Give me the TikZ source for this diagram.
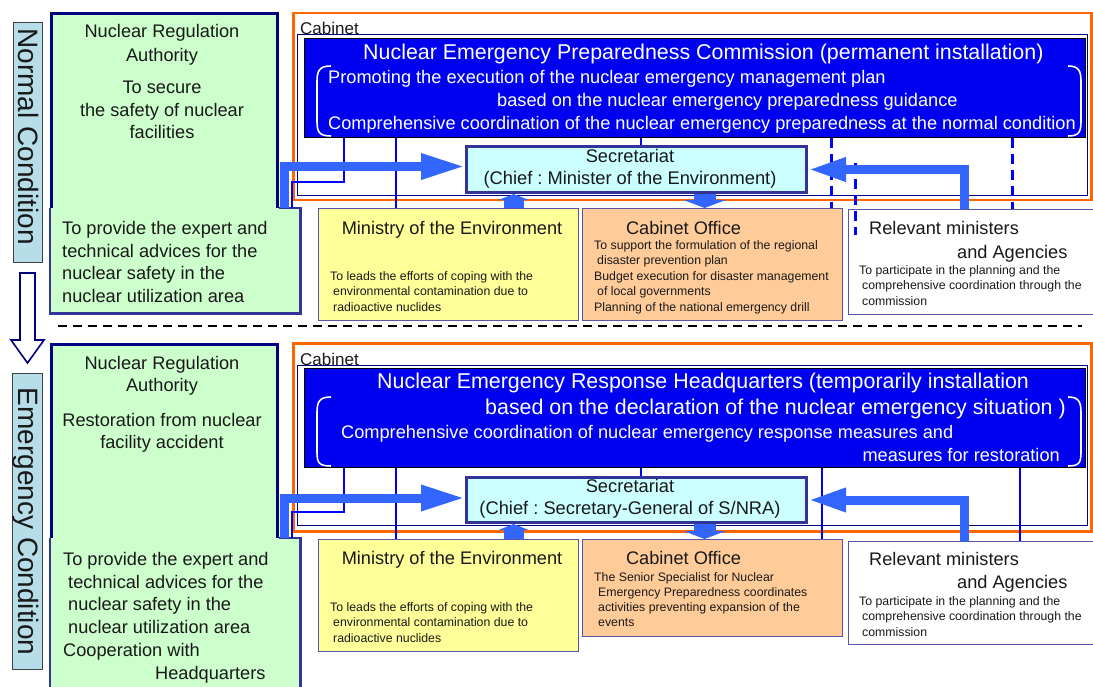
\documentclass[tikz,border=0pt]{standalone}
\usepackage{fontspec}
\setmainfont{Liberation Sans}
\usetikzlibrary{arrows.meta}
\definecolor{navy}{HTML}{000080}
\definecolor{nraborder}{HTML}{333399}
\definecolor{greenf}{HTML}{CCFFCC}
\definecolor{condfill}{HTML}{B7DEE8}
\definecolor{orangeb}{HTML}{FF6600}
\definecolor{comblue}{HTML}{0000F0}
\definecolor{secfill}{HTML}{CCFFFF}
\definecolor{moefill}{HTML}{FFFF99}
\definecolor{cofill}{HTML}{FFCC99}
\definecolor{boxb}{HTML}{5555AA}
\definecolor{fatblue}{HTML}{3366FF}
\definecolor{thinblue}{HTML}{0000FF}
\frenchspacing
\begin{document}
\begin{tikzpicture}[x=1pt,y=-1pt,
  box/.style={rectangle, inner sep=0, anchor=north west},
  condbox/.style={box, fill=condfill, draw=black!75, line width=1.2},
  cabbox/.style={box, draw=orangeb, line width=2.5},
  cabin/.style={box, draw=navy, line width=1.2},
  combox/.style={box, fill=comblue, draw=black, line width=1},
  secbox/.style={box, fill=secfill, draw=nraborder, line width=3},
  unitbox/.style={box, draw=boxb, line width=1.2},
  nraup/.style={box, fill=greenf, draw=navy, line width=3},
  nralow/.style={box, fill=greenf},
  nraline/.style={draw=nraborder, line width=2.5},
  tx/.style={inner sep=0, text=black!90},
  fA/.style={font=\fontsize{18.2}{22.7}\selectfont},
  fT/.style={font=\fontsize{21.4}{26}\selectfont},
  fS/.style={font=\fontsize{12.3}{15.4}\selectfont},
  fC/.style={font=\fontsize{28}{32}\selectfont},
  wt/.style={inner sep=0, text=white},
  thinb/.style={draw=thinblue, line width=2},
  dashb/.style={draw=thinblue, line width=3, dash pattern=on 10pt off 6pt},
  fat/.style={draw=fatblue, line width=9},
  fathead/.style={-{Triangle[length=44pt,width=24pt]}},
  bracket/.style={draw=white, line width=1.6}
]
\useasboundingbox (0,0) rectangle (1093,687);
\fill[white] (0,0) rectangle (1093,687);

% ================= NORMAL CONDITION =================
\node[condbox, minimum width=29, minimum height=240] (cond1) at (13,22) {};
\node[tx, fC, rotate=-90, anchor=base] (cond1t) at (19,136.5) {Normal Condition};

\node[cabbox, minimum width=798, minimum height=187] (cab1) at (292,12) {};
\node[cabin, minimum width=790, minimum height=161] (cabin1) at (297,34) {};
\node[tx, font=\fontsize{17}{20}\selectfont, anchor=north west] (cab1t) at (300,22) {Cabinet};
\node[combox, minimum width=781, minimum height=99] (com1) at (304,38) {};
\node[secbox, minimum width=340, minimum height=46] (sec1) at (465,145) {};
\node[unitbox, fill=moefill, minimum width=260, minimum height=112] (moe1) at (318,208) {};
\node[unitbox, fill=cofill, minimum width=260, minimum height=112] (co1) at (582,208) {};
\node[unitbox, fill=white, minimum width=260, minimum height=105] (rel1) at (848,209) {};
\node[nraup, minimum width=226, minimum height=198] (nra1) at (50,12) {};
\node[nralow, minimum width=250, minimum height=105] (nra1b) at (50,208) {};
\draw[nraline] (nra1.east |- nra1b.north) -- (nra1b.north east) -- (nra1b.south east) -- (nra1b.south west) -- (nra1b.north west);

% brackets
\draw[bracket] (331,66) .. controls (319,66) and (317,71) .. (317,82) -- (317,121) .. controls (317,132) and (319,136) .. (331,136);
\draw[bracket] (1068,66) .. controls (1079,66) and (1081,71) .. (1081,82) -- (1081,121) .. controls (1081,132) and (1079,136) .. (1068,136);

% connectors
\draw[thinb] ([xshift=4pt]sec1.north) -- ([xshift=4pt]sec1.north |- com1.south);
\draw[thinb] ([xshift=40pt]com1.south west) |- ([xshift=-8pt,yshift=26pt]nra1b.north east) -- ([xshift=-8pt]nra1b.north east);
\draw[thinb] ([xshift=92pt]com1.south west) -- ([xshift=92pt]com1.south west |- moe1.north);
\draw[dashb] ([xshift=-12pt]co1.north east |- com1.south) -- ([xshift=-12pt]co1.north east);
\coordinate (d1a) at (855,163);
\coordinate (d1b) at (855,235);
\draw[dashb] (d1a) -- (d1b);
\draw[dashb] ([xshift=164pt]rel1.north west |- com1.south) -- ([xshift=164pt]rel1.north west);
\draw[fat, fathead] ([xshift=-16pt]nra1b.north east) |- ([yshift=3pt]sec1.west);
\draw[fat, -{Triangle[length=38pt,width=22pt]}] ([xshift=116pt]rel1.north west) |- (sec1.east);
\draw[draw=fatblue, line width=20, -{Triangle[length=6pt,width=30pt]}] ([xshift=65pt]moe1.north) -- ([xshift=65pt]moe1.north |- sec1.south);
\draw[draw=fatblue, line width=22, -{Triangle[length=8pt,width=42pt]}] ([xshift=-8pt]co1.north |- sec1.south) -- ([xshift=-8pt]co1.north);

% texts
\node[tx, font=\fontsize{18.2}{24}\selectfont, align=center, anchor=north] (nra1a) at (162,24.2) {Nuclear Regulation\\Authority};
\node[tx, font=\fontsize{18.2}{22.5}\selectfont, align=center, anchor=north] (nra1c) at (162,81.2) {To secure\\the safety of nuclear\\facilities};
\node[tx, fA, align=left, anchor=north west] (nra1d) at (62,221.2) {To provide the expert and\\technical advices for the\\nuclear safety in the\\nuclear utilization area};

\node[wt, fT, anchor=north west] (com1a) at (363,44) {Nuclear Emergency Preparedness Commission (permanent installation)};
\node[wt, fA, anchor=north west] (com1b) at (328,70.2) {Promoting the execution of the nuclear emergency management plan};
\node[wt, fA, anchor=north west] (com1c) at (497,93.2) {based on the nuclear emergency preparedness guidance};
\node[wt, fA, anchor=north west] (com1d) at (328,116.2) {Comprehensive coordination of the nuclear emergency preparedness at the normal condition};

\node[tx, font=\fontsize{18.3}{21.5}\selectfont, align=center, anchor=north] (sec1t) at (630,149.2) {Secretariat\\(Chief : Minister of the Environment)};

\node[tx, fA, anchor=north] (moe1a) at (452,221.2) {Ministry of the Environment};
\node[tx, fS, align=left, anchor=north west] (moe1b) at (330,271.3) {To leads the efforts of coping with the\\\hspace*{3pt}environmental contamination due to\\\hspace*{3pt}radioactive nuclides};
\node[tx, fA, anchor=north] (co1a) at (683.5,221.2) {Cabinet Office};
\node[tx, fS, align=left, anchor=north west] (co1b) at (594,240.3) {To support the formulation of the regional\\\hspace*{3pt}disaster prevention plan\\Budget execution for disaster management\\\hspace*{3pt}of local governments\\Planning of the national emergency drill};
\node[tx, fA, anchor=north west] (rel1a) at (869,221.2) {Relevant ministers};
\node[tx, fA, anchor=north west] (rel1b) at (957,245.2) {and Agencies};
\node[tx, fS, align=left, anchor=north west] (rel1c) at (859,265.3) {To participate in the planning and the\\\hspace*{3pt}comprehensive coordination through the\\\hspace*{3pt}commission};

% separator and transition arrow
\coordinate (sepA) at (58,326);
\coordinate (sepB) at (1082,326);
\draw[black, line width=1.6, dash pattern=on 9pt off 6pt] (sepA) -- (sepB);
\draw[navy, line width=1.6, fill=white] (20,273) -- (35,273) -- (35,340) -- (44,340) -- (27.5,363) -- (11,340) -- (20,340) -- cycle;

% ================= EMERGENCY CONDITION =================
\node[condbox, minimum width=30, minimum height=296] (cond2) at (12,373) {};
\node[tx, fC, rotate=-90, anchor=base] (cond2t) at (18.5,521.5) {Emergency Condition};

\node[cabbox, minimum width=798, minimum height=188] (cab2) at (292,342) {};
\node[cabin, minimum width=790, minimum height=160] (cabin2) at (297,365) {};
\node[tx, font=\fontsize{17}{20}\selectfont, anchor=north west] (cab2t) at (300,352.6) {Cabinet};
\node[combox, minimum width=781, minimum height=99] (com2) at (304,368) {};
\node[secbox, minimum width=340, minimum height=45] (sec2) at (465,476) {};
\node[unitbox, fill=moefill, minimum width=260, minimum height=112] (moe2) at (318,539) {};
\node[unitbox, fill=cofill, minimum width=260, minimum height=97] (co2) at (582,539) {};
\node[unitbox, fill=white, minimum width=260, minimum height=103] (rel2) at (848,541) {};
\node[nraup, minimum width=226, minimum height=197] (nra2) at (50,343) {};
\node[nralow, minimum width=250, minimum height=160] (nra2b) at (50,538) {};
\draw[nraline] (nra2.east |- nra2b.north) -- (nra2b.north east) -- (nra2b.south east) -- (nra2b.south west) -- (nra2b.north west);

\draw[bracket] (331,397) .. controls (319,397) and (317,402) .. (317,413) -- (317,452) .. controls (317,463) and (319,466) .. (331,466);
\draw[bracket] (1068,397) .. controls (1079,397) and (1081,402) .. (1081,413) -- (1081,452) .. controls (1081,463) and (1079,466) .. (1068,466);

\draw[thinb] ([xshift=4pt]sec2.north) -- ([xshift=4pt]sec2.north |- com2.south);
\draw[thinb] ([xshift=40pt]com2.south west) |- ([xshift=-8pt,yshift=26pt]nra2b.north east) -- ([xshift=-8pt]nra2b.north east);
\draw[thinb] ([xshift=92pt]com2.south west) -- ([xshift=92pt]com2.south west |- moe2.north);
\draw[thinb] ([xshift=-21pt]co2.north east |- com2.south) -- ([xshift=-21pt]co2.north east);
\draw[thinb] ([xshift=172pt]rel2.north west |- com2.south) -- ([xshift=172pt]rel2.north west);
\draw[fat, fathead] ([xshift=-16pt]nra2b.north east) |- ([yshift=2pt]sec2.west);
\draw[fat, -{Triangle[length=38pt,width=22pt]}] ([xshift=116pt]rel2.north west) |- (sec2.east);
\draw[draw=fatblue, line width=20, -{Triangle[length=6pt,width=30pt]}] ([xshift=65pt]moe2.north) -- ([xshift=65pt]moe2.north |- sec2.south);
\draw[draw=fatblue, line width=22, -{Triangle[length=8pt,width=42pt]}] ([xshift=-8pt]co2.north |- sec2.south) -- ([xshift=-8pt]co2.north);

\node[tx, font=\fontsize{18.2}{22}\selectfont, align=center, anchor=north] (nra2a) at (162,356.2) {Nuclear Regulation\\Authority};
\node[tx, font=\fontsize{18.2}{22}\selectfont, align=center, anchor=north] (nra2c) at (162,413.2) {Restoration from nuclear\\facility accident};
\node[tx, fA, align=left, anchor=north west] (nra2d) at (63,552.2) {To provide the expert and\\\hspace*{5pt}technical advices for the\\\hspace*{5pt}nuclear safety in the\\\hspace*{5pt}nuclear utilization area\\Cooperation with\\\hspace*{92pt}Headquarters};

\node[wt, fT, anchor=north west] (com2a) at (377,373) {Nuclear Emergency Response Headquarters (temporarily installation};
\node[wt, fT, anchor=north west] (com2b) at (485,399) {based on the declaration of the nuclear emergency situation )};
\node[wt, fA, anchor=north west] (com2c) at (341,425.2) {Comprehensive coordination of nuclear emergency response measures and};
\node[wt, fA, anchor=north east] (com2d) at (1060,448.2) {measures for restoration};

\node[tx, font=\fontsize{18.3}{21.5}\selectfont, align=center, anchor=north] (sec2t) at (630,479.2) {Secretariat\\(Chief : Secretary-General of S/NRA)};

\node[tx, fA, anchor=north] (moe2a) at (452,551.2) {Ministry of the Environment};
\node[tx, fS, align=left, anchor=north west] (moe2b) at (330,602.3) {To leads the efforts of coping with the\\\hspace*{3pt}environmental contamination due to\\\hspace*{3pt}radioactive nuclides};
\node[tx, fA, anchor=north] (co2a) at (683.5,551.2) {Cabinet Office};
\node[tx, font=\fontsize{12.3}{15}\selectfont, align=left, anchor=north west] (co2b) at (594,572.3) {The Senior Specialist for Nuclear\\\hspace*{4pt}Emergency Preparedness coordinates\\\hspace*{4pt}activities preventing expansion of the\\\hspace*{4pt}events};
\node[tx, fA, anchor=north west] (rel2a) at (869,552.2) {Relevant ministers};
\node[tx, fA, anchor=north west] (rel2b) at (957,575.2) {and Agencies};
\node[tx, fS, align=left, anchor=north west] (rel2c) at (859,596.3) {To participate in the planning and the\\\hspace*{3pt}comprehensive coordination through the\\\hspace*{3pt}commission};
\end{tikzpicture}
\end{document}
